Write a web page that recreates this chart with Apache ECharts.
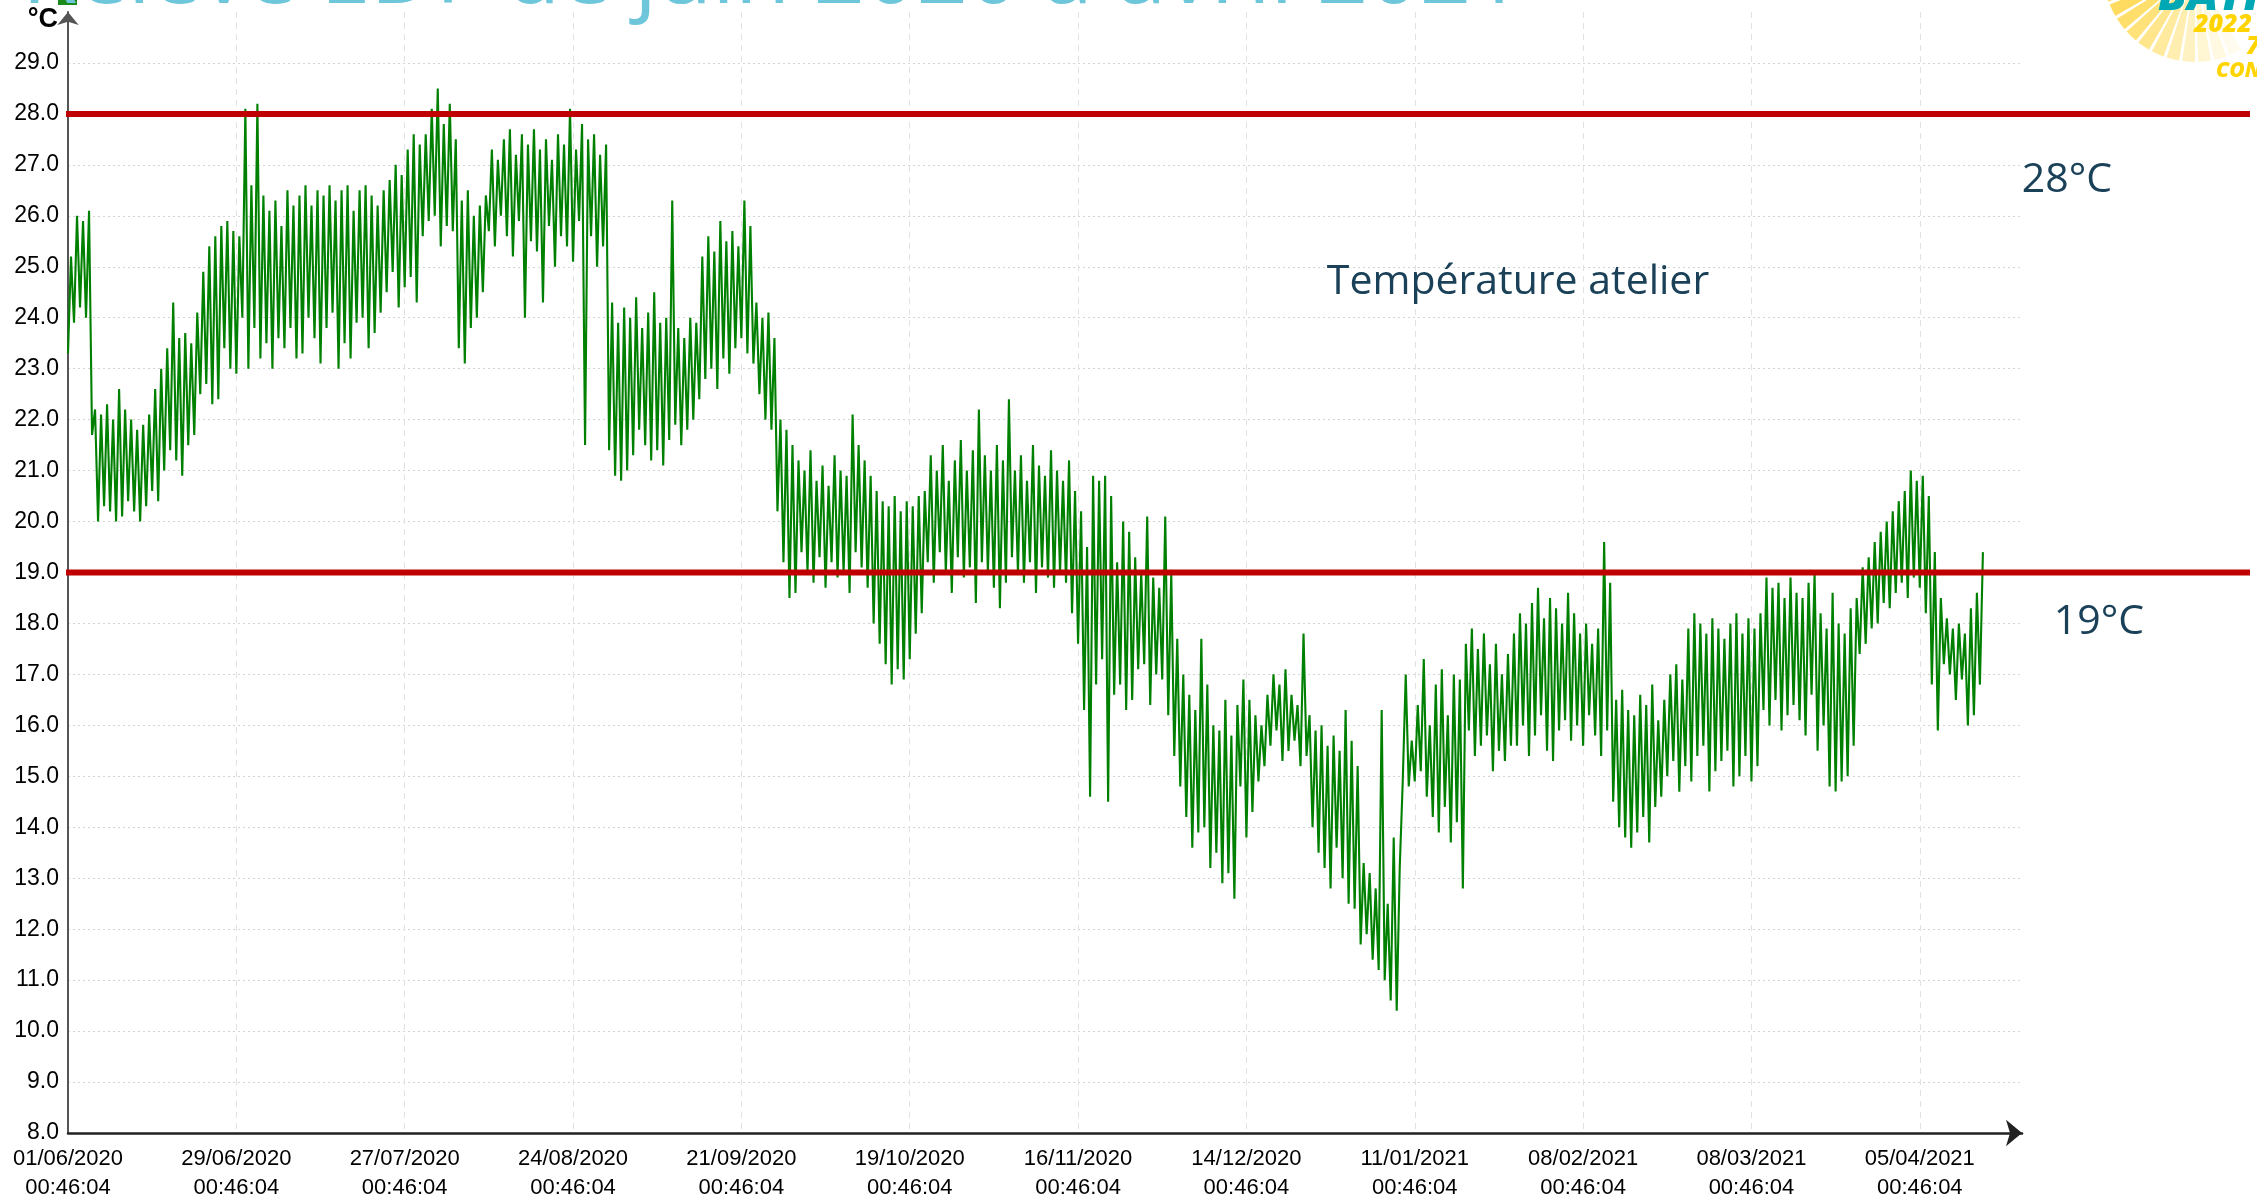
<!DOCTYPE html>
<html>
<head>
<meta charset="utf-8">
<script src="https://cdn.jsdelivr.net/npm/echarts@6/dist/echarts.min.js"></script>
<style>
html,body{margin:0;padding:0;background:#fff;overflow:hidden}
#c{width:2257px;height:1202px}
</style>
</head>
<body>
<div id="c"></div>
<script>
// ---------- DATA ----------
const titleText = 'Relevé EDF de juin 2020 à avril 2021';
const seriesName = 'Température atelier';
const tickDates = ['01/06/2020','29/06/2020','27/07/2020','24/08/2020','21/09/2020','19/10/2020',
                   '16/11/2020','14/12/2020','11/01/2021','08/02/2021','08/03/2021','05/04/2021'];
const tickTime = '00:46:04';
const tickStepDays = 28;
const thresholds = [28, 19];
const thresholdLabels = ['28°C', '19°C'];

// daily maximum (°C), one value per day from 01/06/2020
const dayHighs = [
  25.2, 26.0, 25.9, 26.1,
  22.2, 22.1, 22.3, 22.0, 22.6, 22.2, 22.0, 21.8, 21.9, 22.1,
  22.6, 23.0, 23.4, 24.3,
  23.6, 23.7, 23.5, 24.1,
  24.9, 25.4, 25.6, 25.8,
  25.9, 25.7, 25.6,
  28.1, 26.6, 28.2, 26.4,
  26.1, 26.3, 25.8, 26.5, 26.2, 26.4,
  26.6, 26.2, 26.5, 26.4, 26.6, 26.3, 26.5, 26.6, 26.1, 26.5, 26.6, 26.4, 26.2, 26.5,
  26.7, 27.0, 26.8, 27.3, 27.6, 27.4,
  27.6, 28.1, 28.5, 27.8, 28.2, 27.5,
  26.3, 26.5, 26.0, 26.2, 26.4,
  27.3, 27.1, 27.5, 27.7, 27.2, 27.6, 27.4, 27.7, 27.3, 27.5, 27.1, 27.6, 27.4, 28.1, 27.3,
  27.8, 27.5, 27.6, 27.2, 27.4,
  24.3, 23.9, 24.2, 24.0, 24.4, 23.8, 24.1, 24.5, 23.9, 24.0, 26.3, 23.8, 23.6, 24.0, 23.9,
  25.2, 25.6, 25.3, 25.9, 25.5, 25.7, 25.4, 26.3, 25.8,
  24.3, 24.0, 24.1, 23.6,
  22.0, 21.8, 21.5,
  21.2, 21.0, 21.4, 20.8, 21.1, 20.7, 21.3, 21.0, 20.9, 22.1, 21.5, 21.2, 20.9,
  20.6, 20.4, 20.3, 20.5, 20.2, 20.4, 20.3, 20.5, 20.6,
  21.3, 21.0, 21.5, 20.8, 21.2, 21.6, 21.0, 21.4, 22.2, 21.3, 21.0, 21.5, 21.2, 22.4,
  21.0, 21.3, 20.8, 21.5, 21.1, 20.9, 21.4, 21.0, 20.8,
  21.2, 20.6, 20.2, 19.5, 20.9, 20.8, 20.9, 20.5, 19.2, 20.0, 19.8, 19.3, 19.0, 20.1, 18.9, 18.7, 20.1, 19.0,
  17.7, 17.0, 16.6, 16.3, 17.7, 16.8, 16.0, 15.9, 16.5, 15.8, 16.4,
  16.9, 16.5, 16.2, 16.0, 16.6,
  17.0, 16.8, 17.1, 16.6, 16.4, 17.8, 16.2,
  15.9, 16.0, 15.6, 15.8, 15.5, 16.3, 15.7, 15.2,
  13.3, 13.1, 12.8, 16.3, 12.5, 13.8, 13.2,
  17.0,
  15.7, 16.4, 17.3, 16.0, 16.8, 17.1, 16.2, 17.0, 16.9,
  17.6,
  17.9, 17.5, 17.8, 17.2, 17.6, 17.0, 17.4, 17.8,
  18.2, 18.0, 18.4, 18.7, 18.1, 18.5, 18.3, 18.0, 18.6, 18.2, 17.8, 18.0, 17.6, 17.9,
  19.6, 18.8,
  16.5, 16.7, 16.3, 16.2, 16.6, 16.4, 16.8, 16.1, 16.5,
  17.0, 17.2, 16.9,
  17.9, 18.2, 18.0, 17.8, 18.1, 17.9, 17.7, 18.0, 18.2, 17.8, 18.1, 17.9, 18.2,
  18.9, 18.7, 18.8, 18.5, 18.9, 18.6, 18.5, 18.8, 19.0,
  18.2, 17.9, 18.6, 18.0, 17.8, 18.3, 18.5,
  19.1, 19.3, 19.6, 19.8, 20.0, 20.2, 20.4, 20.6, 21.0, 20.8, 20.9, 20.5,
  19.4, 18.5,
  18.1, 17.9, 18.0, 17.8, 18.3, 18.6, 19.4
];

// daily minimum (°C), one value per day from 01/06/2020
const dayLows = [
  23.3, 23.9, 24.2, 24.0,
  21.7, 20.0, 20.3, 20.2, 20.0, 20.1, 20.4, 20.2, 20.0, 20.3,
  20.6, 20.4, 21.0, 21.4,
  21.2, 20.9, 21.5, 21.7,
  22.5, 22.7, 22.3, 22.4,
  23.4, 23.0, 22.9,
  24.0, 23.0, 23.8, 23.2,
  23.5, 23.0, 23.6, 23.4, 23.8, 23.2,
  23.3, 24.0, 23.6, 23.1, 23.8, 24.1, 23.0, 23.5, 23.2, 23.9, 24.0, 23.4, 23.7, 24.1,
  24.5, 24.9, 24.2, 24.6, 24.8, 24.3,
  25.6, 25.9, 26.0, 25.4, 25.8, 25.7,
  23.4, 23.1, 23.8, 24.0, 24.5,
  25.7, 25.4, 26.0, 25.6, 25.2, 25.9, 24.0, 25.5, 25.3, 24.3, 25.8, 25.0, 25.6, 25.4, 25.1,
  25.9, 21.5, 25.6, 25.0, 25.4,
  21.4, 20.9, 20.8, 21.0, 21.3, 21.8, 21.5, 21.2, 21.4, 21.1, 21.6, 21.9, 21.5, 21.8, 22.0,
  22.4, 22.8, 23.0, 22.6, 23.2, 22.9, 23.4, 23.6, 23.3,
  23.1, 22.5, 22.0, 21.8,
  20.2, 19.2, 18.5,
  18.6, 19.4, 19.0, 18.8, 19.3, 18.7, 19.2, 18.9, 19.0, 18.6, 19.4, 19.1, 18.7,
  18.0, 17.6, 17.2, 16.8, 17.1, 16.9, 17.3, 17.8, 18.2,
  19.2, 18.8, 19.4, 19.0, 18.6, 19.3, 18.9, 19.1, 18.4, 19.2, 19.0, 18.7, 18.3, 18.8,
  19.3, 19.0, 18.8, 19.2, 18.6, 19.1, 18.9, 18.7, 19.0,
  18.8, 18.2, 17.6, 16.3, 14.6, 16.8, 17.3, 14.5, 16.6, 16.8, 16.3, 16.5, 17.1, 17.2, 16.4, 17.0, 16.9, 16.2,
  15.4, 14.8, 14.2, 13.6, 13.9, 14.0, 13.2, 13.5, 12.9, 13.1, 12.6,
  14.8, 13.8, 14.3, 14.9, 15.2,
  15.6, 15.9, 15.3, 15.5, 15.7, 15.2, 15.4,
  14.0, 13.5, 13.2, 12.8, 13.6, 13.0, 12.5, 12.4,
  11.7, 11.9, 11.4, 11.2, 11.0, 10.6, 10.4,
  14.9,
  14.8, 14.9, 15.1, 14.6, 14.2, 13.9, 14.4, 13.7, 14.1,
  12.8,
  15.9, 15.4, 15.6, 15.8, 15.1, 15.5, 15.3, 15.6,
  15.6, 16.0, 15.4, 15.8, 16.2, 15.5, 15.3, 15.9, 16.1, 15.7, 16.0, 15.6, 16.2, 15.8,
  15.4, 15.9,
  14.5, 14.0, 13.8, 13.6, 13.9, 14.2, 13.7, 14.4, 14.6,
  15.0, 15.3, 14.7,
  15.2, 14.9, 15.4, 15.6, 14.7, 15.1, 15.3, 15.5, 14.8, 15.0, 15.4, 14.9, 15.2,
  16.3, 16.0, 16.5, 15.9, 16.2, 16.4, 16.1, 15.8, 16.6,
  15.5, 16.0, 14.8, 14.7, 14.9, 15.0, 15.6,
  17.4, 17.6, 17.9, 18.0, 18.4, 18.3, 18.6, 18.8, 18.5, 18.9, 18.7, 18.2,
  16.8, 15.9,
  17.2, 17.0, 16.5, 16.9, 16.0, 16.2, 16.8
];

// ---------- CHART ----------
const chart = echarts.init(document.getElementById('c'), null, {renderer: 'canvas'});

const lineData = [];
for (let i = 0; i < dayLows.length; i++) {
  lineData.push([i, dayLows[i]]);
  lineData.push([i + 0.5, dayHighs[i]]);
}

const labelFont = '"Liberation Sans", Arial, sans-serif';
const slideFont = '"Open Sans", "Noto Sans", sans-serif';

chart.setOption({
  animation: false,
  backgroundColor: '#ffffff',
  grid: {left: 68, right: 235, top: 12, bottom: 69, containLabel: false, outerBoundsMode: 'none'},
  xAxis: {
    type: 'value',
    min: 0,
    max: 325,
    interval: tickStepDays,
    axisLine: {show: true, symbol: ['none', 'arrow'], symbolSize: [20, 16],
               lineStyle: {color: '#222', width: 2.5}},
    axisTick: {show: false},
    axisLabel: {
      showMaxLabel: false,
      fontFamily: labelFont, fontSize: 22, color: '#000', lineHeight: 29, margin: 11,
      formatter: function (v) {
        const k = Math.round(v / tickStepDays);
        if (Math.abs(v - k * tickStepDays) > 1e-6 || k >= tickDates.length) return '';
        return tickDates[k] + '\n' + tickTime;
      }
    },
    splitLine: {show: true, showMinLine: false, showMaxLine: false,
                lineStyle: {color: '#e2e2e2', width: 1, type: [6, 5]}}
  },
  yAxis: {
    type: 'value',
    min: 8,
    max: 30,
    interval: 1,
    name: '°C',
    nameLocation: 'end',
    nameGap: -8,
    nameTextStyle: {fontFamily: labelFont, fontSize: 27, fontWeight: 'bold', color: '#000', align: 'right',
                    verticalAlign: 'middle', padding: [0, 10, 0, 0]},
    axisLine: {show: true, symbol: ['none', 'arrow'], symbolSize: [16, 13],
               lineStyle: {color: '#555', width: 2}},
    axisTick: {show: false},
    axisLabel: {
      showMaxLabel: false,
      fontFamily: labelFont, fontSize: 23, color: '#000', margin: 9,
      formatter: function (v) { return v <= 29 ? v.toFixed(1) : ''; }
    },
    splitLine: {show: true, showMinLine: false, showMaxLine: false,
                lineStyle: {color: '#d4d4d4', width: 1, type: [2, 3]}}
  },
  series: [{
    name: seriesName,
    type: 'line',
    data: lineData,
    showSymbol: false,
    symbol: 'none',
    silent: true,
    lineStyle: {color: '#008000', width: 2.1},
    z: 3
  }]
});

// threshold lines and slide annotations
const xStart = chart.convertToPixel({xAxisIndex: 0}, 0);
const graphics = [];
thresholds.forEach(function (t, i) {
  const y = chart.convertToPixel({yAxisIndex: 0}, t);
  graphics.push({type: 'line', z: 10, silent: true,
    shape: {x1: xStart - 2, y1: y, x2: 2250, y2: y},
    style: {stroke: '#C00000', lineWidth: 6}});
});
graphics.push({type: 'text', z: 11, x: 2067, y: 180,
  style: {text: thresholdLabels[0], font: '400 41px ' + slideFont, fill: '#1B4159', align: 'center', verticalAlign: 'middle'}});
graphics.push({type: 'text', z: 11, x: 2099, y: 622,
  style: {text: thresholdLabels[1], font: '400 41px ' + slideFont, fill: '#1B4159', align: 'center', verticalAlign: 'middle'}});
graphics.push({type: 'text', z: 11, x: 1518, y: 282,
  style: {text: seriesName, font: '400 41px ' + slideFont, fill: '#1B4159', align: 'center', verticalAlign: 'middle'}});

// slide title (cut by the top edge)
graphics.push({type: 'text', z: 12, x: 22, y: -23,
  style: {text: titleText, font: '400 90px ' + slideFont, fill: '#6EC6DB', align: 'left', verticalAlign: 'middle'}});

// small green marker at top of axis
graphics.push({type: 'rect', z: 11, shape: {x: 58, y: 0, width: 19, height: 5}, style: {fill: '#1a8a1a'}});

// logo approximation (top right)
const rayColors = ['#FFFCEF','#FFF9E2','#FFF6D3','#FFF2C2','#FFEEB0','#FFEA9E','#FFE68C','#FFE27A','#FFDF6C','#FFDC60','#FFD955','#FFD64B'];
rayColors.forEach(function (c, k) {
  const a0 = (60 + k * 10) * Math.PI / 180;
  graphics.push({type: 'sector', z: 9, silent: true,
    shape: {cx: 2195, cy: -30, r0: 18, r: 92, startAngle: a0, endAngle: a0 + 8 * Math.PI / 180, clockwise: true},
    style: {fill: c}});
});
graphics.push({type: 'text', z: 12, x: 2158, y: -3,
  style: {text: 'BATI', font: 'italic 900 46px ' + slideFont, fill: '#00A7B5', align: 'left', verticalAlign: 'middle'}});
graphics.push({type: 'text', z: 12, x: 2194, y: 25,
  style: {text: '2022', font: 'italic 800 25px ' + slideFont, fill: '#FFD400', align: 'left', verticalAlign: 'middle'}});
graphics.push({type: 'text', z: 12, x: 2246, y: 47,
  style: {text: '7', font: 'italic 800 25px ' + slideFont, fill: '#FFD400', align: 'left', verticalAlign: 'middle'}});
graphics.push({type: 'text', z: 12, x: 2216, y: 71,
  style: {text: 'CON', font: 'italic 800 21px ' + slideFont, fill: '#FFD400', align: 'left', verticalAlign: 'middle'}});

chart.setOption({graphic: graphics});
</script>
</body>
</html>
